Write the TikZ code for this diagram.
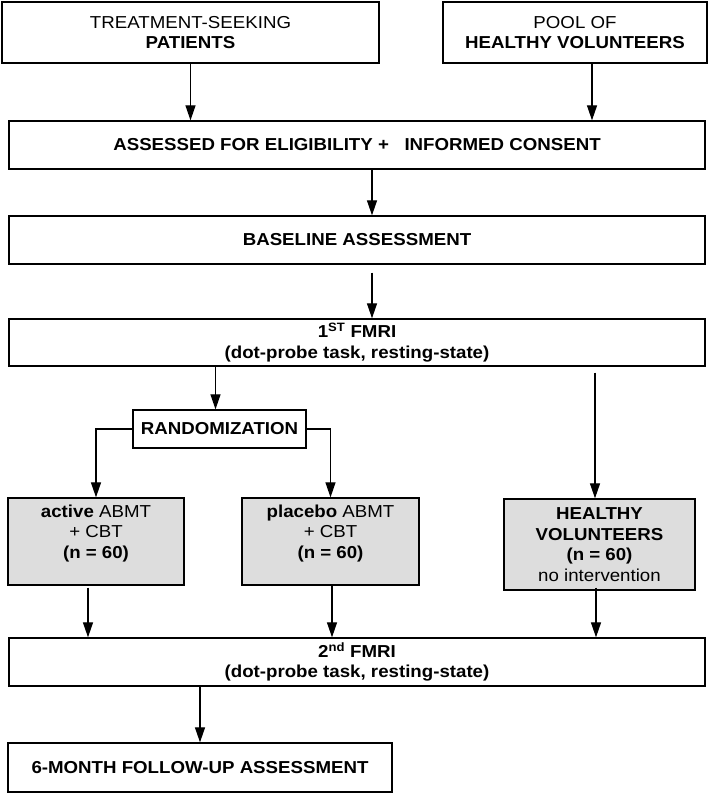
\documentclass[tikz,border=0pt]{standalone}
\usepackage{fontspec}
\setmainfont{Liberation Sans}[FakeStretch=1.08]
\usepackage{tikz}
\usetikzlibrary{arrows.meta, positioning}
\definecolor{groupcolor}{RGB}{221, 221, 221}
\newcommand{\stagefont}{\fontsize{17.3}{20.5}\selectfont}

\begin{document}
\begin{tikzpicture}[x=1pt, y=-1pt,
    stage/.style={draw, line width=1.3pt, inner sep=0pt, text centered, align=center, font=\stagefont},
    boldstage/.style={stage, font=\stagefont\bfseries},
    groupbox/.style={stage, fill=groupcolor, minimum height=87pt},
    arrow/.style={-{Triangle[length=15pt, width=10pt]}, line width=1.2pt}
]
\useasboundingbox (0,0) rectangle (709,794);

% Recruitment
\node[stage, minimum width=377pt, minimum height=61pt] (patients) at (190.5, 32.5) {TREATMENT-SEEKING\\ \textbf{PATIENTS}};
\node[stage, minimum width=264pt, minimum height=61pt] (pool) at (575, 32.5) {POOL OF\\ \textbf{HEALTHY VOLUNTEERS}};

% Assessment stages
\node[boldstage, minimum width=696pt, minimum height=48pt] (consent) at (357, 145) {ASSESSED FOR ELIGIBILITY +\ \ \ INFORMED CONSENT};
\node[boldstage, minimum width=696pt, minimum height=48pt] (baseline) at (357, 240) {BASELINE ASSESSMENT};
\node[boldstage, minimum width=696pt, minimum height=47pt] (fmri1) at (357, 342.5) {1\textsuperscript{ST} FMRI\\ (dot-probe task, resting-state)};

% Randomization and groups
\node[boldstage, minimum width=173pt, minimum height=38pt] (random) at (219.5, 429) {RANDOMIZATION};
\node[groupbox, minimum width=176pt] (active) at (96, 541.5) {\textbf{active} ABMT\\ + CBT\\ \textbf{(n = 60)}\\ \mbox{}};
\node[groupbox, minimum width=177pt] (placebo) at (330.5, 541.5) {\textbf{placebo} ABMT\\ + CBT\\ \textbf{(n = 60)}\\ \mbox{}};
\node[groupbox, minimum width=191pt, minimum height=91pt] (healthy) at (599.5, 544.5) {\textbf{HEALTHY}\\ \textbf{VOLUNTEERS}\\ \textbf{(n = 60)}\\ no intervention};

% Follow-up stages
\node[boldstage, minimum width=696pt, minimum height=48pt] (fmri2) at (357, 662) {2\textsuperscript{nd} FMRI\\ (dot-probe task, resting-state)};
\node[boldstage, minimum width=384pt, minimum height=49pt] (followup) at (200, 767.5) {6-MONTH FOLLOW-UP ASSESSMENT};

% Arrows
\draw[arrow] (patients.south) -- (patients.south |- consent.north);
\draw[arrow] ([xshift=17pt]pool.south) -- ([xshift=17pt]pool.south |- consent.north);
\draw[arrow] ([xshift=15pt]consent.south) -- ([xshift=15pt]consent.south |- baseline.north);
\draw[arrow, shorten <=8pt] ([xshift=15pt]baseline.south) -- ([xshift=15pt]baseline.south |- fmri1.north);

\draw[arrow] ([xshift=-4pt]random.north |- fmri1.south) -- ([xshift=-4pt]random.north);
\draw[arrow] (random.west) -| (active.north);
\draw[arrow] (random.east) -| (placebo.north);
\draw[arrow, shorten <=6pt] ([xshift=-4.5pt]healthy.north |- fmri1.south) -- ([xshift=-4.5pt]healthy.north);

\draw[arrow, shorten <=2pt] ([xshift=-8pt]active.south) -- ([xshift=-8pt]active.south |- fmri2.north);
\draw[arrow] ([xshift=1.5pt]placebo.south) -- ([xshift=1.5pt]placebo.south |- fmri2.north);
\draw[arrow, shorten <=-3pt] ([xshift=-3.5pt]healthy.south) -- ([xshift=-3.5pt]healthy.south |- fmri2.north);
\draw[arrow] (fmri2.south -| followup.north) -- (followup.north);

\end{tikzpicture}
\end{document}
